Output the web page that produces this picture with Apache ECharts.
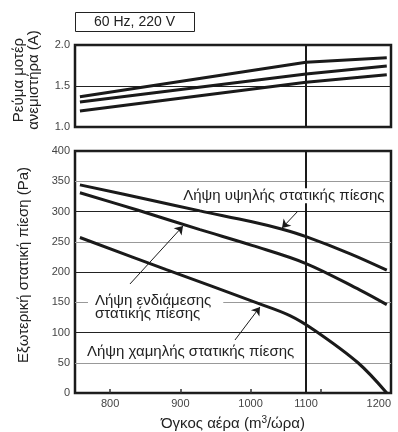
<!DOCTYPE html>
<html><head><meta charset="utf-8">
<script src="https://cdn.jsdelivr.net/npm/echarts@6/dist/echarts.min.js"></script>
<style>html,body{margin:0;padding:0;background:#fff}#c{width:398px;height:432px}</style>
</head><body><div id="c"></div>
<script>
// ---- data ----
const xTickValues = [800, 900, 1000, 1100];
const xLabels = ['800', '900', '1000', '1100', '1200'];
const xLabelAt = [800, 900, 1000, 1079, 1200];
const ratedFlow = 1079;

const currentHigh = [[757, 1.37], [1079, 1.79], [1194, 1.845]];
const currentMid  = [[757, 1.305], [1079, 1.646], [1194, 1.744]];
const currentLow  = [[757, 1.195], [1079, 1.545], [1194, 1.638]];

const pressHigh = [[757, 344], [857, 319], [928, 301], [1002, 283], [1044, 271], [1080, 258], [1142, 230], [1194, 203]];
const pressMid  = [[757, 331], [840, 302], [928, 270], [1002, 244], [1079, 214], [1156, 170], [1194, 146]];
const pressLow  = [[757, 257], [880, 204], [1009, 149], [1056, 128], [1092, 103], [1153, 50], [1194, 0]];

const noteTexts = ['Λήψη υψηλής στατικής πίεσης', 'Λήψη ενδιάμεσης\nστατικής πίεσης', 'Λήψη χαμηλής στατικής πίεσης'];
const noteAt    = [[904, 326], [768.5, 142], [767, 68]];
const arrowFrom = [[1067.6, 300.8], [828.3, 180.2], [977.8, 87.6]];
const arrowTo   = [[1044.8, 272.7], [903.8, 276], [1013.4, 142.2]];

// ---- chart ----
const FONT = 'Liberation Sans, Arial, sans-serif';
const INK = '#1a1a1a';
const chart = echarts.init(document.getElementById('c'), null, {renderer: 'canvas'});

const lineS = (data, xi, smooth) => ({
  type: 'line', data, xAxisIndex: xi, yAxisIndex: xi, showSymbol: false, symbol: 'none',
  smooth: smooth ? 0.35 : false,
  lineStyle: {color: INK, width: 3}, itemStyle: {color: INK}, silent: true, z: 4
});
const vLine = {
  silent: true, symbol: ['none', 'none'], label: {show: false},
  lineStyle: {color: INK, width: 2, type: 'solid'},
  data: [{xAxis: ratedFlow}], animation: false
};

const option = {
  animation: false,
  textStyle: {fontFamily: FONT},
  grid: [
    {left: 75, right: 7, top: 45, height: 82, show: true, borderColor: INK, borderWidth: 2.5, backgroundColor: 'transparent', outerBoundsMode: 'none', containLabel: false},
    {left: 75, right: 7, top: 151, height: 242, show: true, borderColor: INK, borderWidth: 2.5, backgroundColor: 'transparent', outerBoundsMode: 'none', containLabel: false}
  ],
  xAxis: [
    {gridIndex: 0, type: 'value', min: 750, max: 1200,
     axisLine: {show: false}, axisTick: {show: false}, axisLabel: {show: false}, splitLine: {show: false}},
    {gridIndex: 1, type: 'value', min: 750, max: 1200,
     name: 'Όγκος αέρα (m{sup|3}/ώρα)', nameLocation: 'middle', nameGap: 22,
     nameTextStyle: {fontSize: 15, color: '#222', fontFamily: FONT, lineHeight: 18,
       rich: {sup: {fontSize: 10, verticalAlign: 'top', lineHeight: 18, color: '#222', fontFamily: FONT}}},
     axisLine: {show: false},
     axisTick: {show: true, inside: true, length: 4, customValues: xTickValues, lineStyle: {color: '#333', width: 1.5}},
     axisLabel: {customValues: xLabelAt, formatter: v => xLabels[xLabelAt.indexOf(v)], fontSize: 11, color: '#444', margin: 5, alignMaxLabel: 'right'},
     splitLine: {show: false}}
  ],
  yAxis: [
    {gridIndex: 0, type: 'value', min: 1, max: 2, interval: 0.5,
     name: 'Ρεύμα μοτέρ\nανεμιστήρα (A)', nameLocation: 'middle', nameGap: 34,
     nameTextStyle: {fontSize: 15, color: '#222', lineHeight: 15, fontFamily: FONT, padding: [0, 0, 0, 12]},
     axisLine: {show: false}, axisTick: {show: false},
     axisLabel: {formatter: v => v.toFixed(1), fontSize: 11, color: '#444', margin: 5},
     splitLine: {lineStyle: {color: '#222', width: 1}}},
    {gridIndex: 1, type: 'value', min: 0, max: 400, interval: 50,
     name: 'Εξωτερική στατική πίεση (Pa)', nameLocation: 'middle', nameGap: 44,
     nameTextStyle: {fontSize: 15, color: '#222', fontFamily: FONT, padding: [0, 0, 0, 14]},
     axisLine: {show: false}, axisTick: {show: false},
     axisLabel: {fontSize: 11, color: '#444', margin: 5},
     splitLine: {lineStyle: {color: ['#222', '#999'], width: 1.2}}}
  ],
  series: [
    Object.assign(lineS(currentHigh, 0, false), {markLine: vLine}),
    lineS(currentMid, 0, false),
    lineS(currentLow, 0, false),
    Object.assign(lineS(pressHigh, 1, true), {markLine: vLine}),
    Object.assign(lineS(pressMid, 1, true), {markLine: {
      silent: true, symbol: ['none', 'arrow'], symbolSize: 8, label: {show: false},
      lineStyle: {color: INK, width: 1, type: 'solid'}, itemStyle: {color: INK}, animation: false,
      data: arrowFrom.map((f, i) => [{coord: f}, {coord: arrowTo[i]}])
    }}),
    lineS(pressLow, 1, true)
  ]
};
chart.setOption(option);

const pads = [[1, 2, 1, 0], [1, 12, 1, 7], [0, 0, 0, 0]];
const graphics = [
  {type: 'rect', left: 75, top: 12, shape: {width: 119, height: 19}, style: {fill: '#fff', stroke: '#222', lineWidth: 1}, z: 10},
  {type: 'text', x: 134.5, y: 22, z: 11, style: {text: '60 Hz, 220 V', font: '14px ' + FONT, fill: '#222', align: 'center', verticalAlign: 'middle'}}
];
noteTexts.forEach((t, i) => {
  const p = chart.convertToPixel({xAxisIndex: 1, yAxisIndex: 1}, noteAt[i]);
  graphics.push({type: 'text', x: p[0], y: p[1], z: 10,
    style: {text: t, font: '15px ' + FONT, fill: '#222', align: 'left', verticalAlign: 'middle',
      lineHeight: 13, backgroundColor: i < 2 ? '#fff' : 'transparent', padding: pads[i]}});
});
chart.setOption({graphic: graphics});
</script></body></html>
